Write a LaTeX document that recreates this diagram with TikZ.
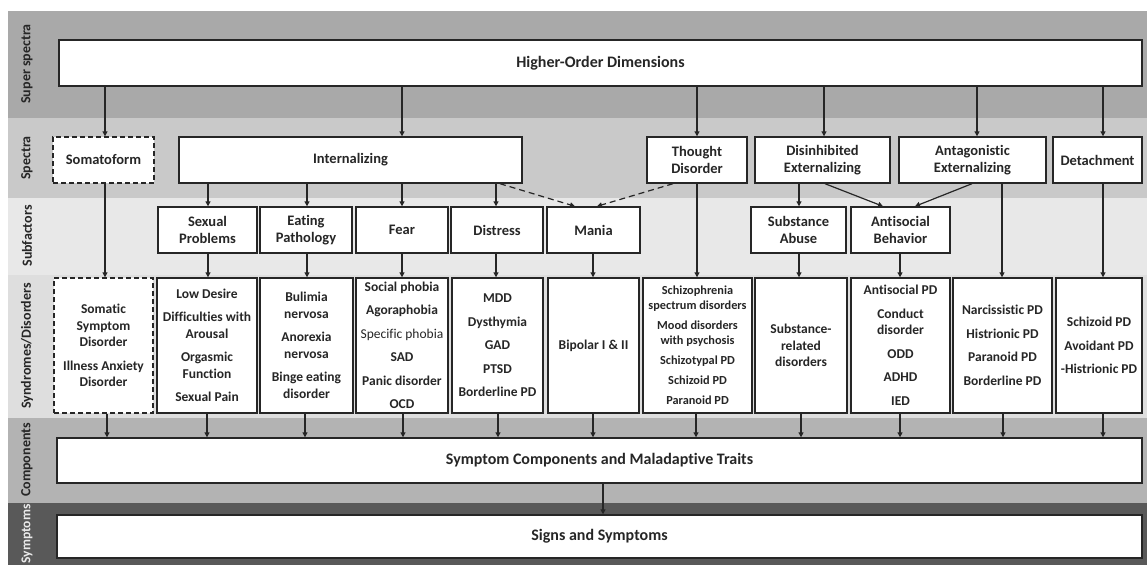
\documentclass[tikz,border=0pt]{standalone}
\usepackage{fontspec}
\setmainfont{Carlito}[Ligatures={NoCommon}]
\usetikzlibrary{arrows.meta}
\definecolor{bSuper}{HTML}{A9A9A9}
\definecolor{bSpec}{HTML}{C9C9C9}
\definecolor{bSub}{HTML}{E8E8E8}
\definecolor{bSyn}{HTML}{DEDEDE}
\definecolor{bComp}{HTML}{B3B3B3}
\definecolor{bSym}{HTML}{595959}
\definecolor{ink}{HTML}{262626}
\newcommand{\bnode}[7]{\node[#1, minimum width={(#5-#3)*1pt}, minimum height={(#6-#4)*1pt}] (#2) at ({(#3+#5)/2},{(#4+#6)/2}) {#7};}
\newcommand{\gp}{\\[7pt]}
\newcommand{\gq}{\\[5pt]}
\tikzset{
  bx/.style={draw=ink, line width=1.4pt, fill=white, inner sep=1pt, align=center, text=ink,
    font=\fontsize{14.5}{17}\selectfont\bfseries},
  dshd/.style={dash pattern=on 5pt off 3pt},
  dbx/.style={bx, dshd},
  big/.style={bx, font=\fontsize{16}{19}\selectfont\bfseries},
  syn/.style={bx, font=\fontsize{13.5}{16.5}\selectfont\bfseries},
  synsm/.style={bx, font=\fontsize{12.3}{15}\selectfont\bfseries},
  arr/.style={draw=ink, line width=1.2pt, -{Triangle[length=5pt,width=5pt]}},
  darr/.style={arr, dash pattern=on 6pt off 4pt},
  lab/.style={rotate=90, text=ink, font=\fontsize{14}{16}\selectfont\bfseries},
}
\begin{document}
\begin{tikzpicture}[x=1pt, y=-1pt]
\useasboundingbox (0,0) rectangle (1147,565);
% bands
\fill[bSuper] (8,11) rectangle (1147,118);
\fill[bSpec] (8,118) rectangle (1147,198);
\fill[bSub] (8,198) rectangle (1147,275);
\fill[bSyn] (8,275) rectangle (1147,418);
\fill[bComp] (8,418) rectangle (1147,503);
\fill[bSym] (8,503) rectangle (1147,565);
% row labels
\node[lab] (lsup) at (27,64) {Super spectra};
\node[lab] (lspe) at (27,158) {Spectra};
\node[lab] (lsub) at (27,236) {Subfactors};
\node[lab] (lsyn) at (27,346) {Syndromes/Disorders};
\node[lab] (lcom) at (27,460) {Components};
\node[lab, text=white!92!black, font=\fontsize{13.5}{16}\selectfont\bfseries] (lsym) at (27,534) {Symptoms};
% super spectra
\bnode{big}{hod}{59}{40}{1142}{86}{Higher-Order Dimensions}
% spectra
\bnode{dbx}{som}{53}{137}{154}{183}{Somatoform}
\bnode{bx}{int}{179}{137}{522}{183}{Internalizing}
\bnode{bx}{tho}{647}{137}{747}{183}{Thought\\Disorder}
\bnode{bx}{dis}{755}{137}{890}{183}{Disinhibited\\Externalizing}
\bnode{bx}{ant}{899}{137}{1046}{183}{Antagonistic\\Externalizing}
\bnode{bx}{det}{1053}{137}{1142}{183}{Detachment}
% subfactors
\bnode{bx}{sex}{158}{207}{257}{253}{Sexual\\Problems}
\bnode{bx}{eat}{260}{207}{352}{253}{Eating\\Pathology}
\bnode{bx}{fea}{356}{207}{448}{253}{Fear}
\bnode{bx}{dst}{451}{207}{543}{253}{Distress}
\bnode{bx}{man}{547}{207}{640}{253}{Mania}
\bnode{bx}{sub}{751}{207}{846}{253}{Substance\\Abuse}
\bnode{bx}{asb}{851}{207}{950}{253}{Antisocial\\Behavior}
% syndromes / disorders
\bnode{syn, dshd}{ssom}{54}{278}{153}{413}{Somatic\\Symptom\\Disorder\gp Illness Anxiety\\Disorder}
\bnode{syn}{ssex}{157}{278}{257}{413}{Low Desire\gp Difficulties with\\Arousal\gp Orgasmic\\Function\gp Sexual Pain}
\bnode{syn}{seat}{260}{278}{353}{413}{Bulimia\\nervosa\gp Anorexia\\nervosa\gp Binge eating\\disorder}
\bnode{syn}{sfea}{356}{278}{448}{413}{Social phobia\gp Agoraphobia\gp {\mdseries Specific phobia}\gp SAD\gp Panic disorder\gp OCD}
\bnode{syn}{sdst}{452}{278}{543}{413}{MDD\gp Dysthymia\gp GAD\gp PTSD\gp Borderline PD}
\bnode{syn}{sman}{548}{278}{639}{413}{Bipolar I \& II}
\bnode{synsm}{stho}{643}{278}{752}{413}{Schizophrenia\\spectrum disorders\gq Mood disorders\\with psychosis\gq Schizotypal PD\gq Schizoid PD\gq Paranoid PD}
\bnode{syn}{ssub}{755}{278}{847}{413}{Substance-\\related\\disorders}
\bnode{syn}{sasb}{851}{278}{950}{413}{Antisocial PD\gp Conduct\\disorder\gp ODD\gp ADHD\gp IED}
\bnode{syn}{sant}{953}{278}{1052}{413}{Narcissistic PD\gp Histrionic PD\gp Paranoid PD\gp Borderline PD}
\bnode{syn}{sdet}{1056}{278}{1142}{413}{Schizoid PD\gp Avoidant PD\gp -Histrionic PD}
% components and symptoms
\bnode{big}{comp}{57}{438}{1142}{483}{Symptom Components and Maladaptive Traits}
\bnode{big}{sign}{57}{515}{1142}{558}{Signs and Symptoms}
% x positions
\coordinate (x105) at (105,0);
\coordinate (x402) at (402,0);
\coordinate (x697) at (697,0);
\coordinate (x824) at (824,0);
\coordinate (x977) at (977,0);
\coordinate (x1103) at (1103,0);
\coordinate (x208) at (208,0);
\coordinate (x307) at (307,0);
\coordinate (x496) at (496,0);
\coordinate (x593) at (593,0);
\coordinate (x799) at (799,0);
\coordinate (x900) at (900,0);
\coordinate (x1002) at (1002,0);
\coordinate (x107) at (107,0);
\coordinate (x207) at (207,0);
\coordinate (x305) at (305,0);
\coordinate (x403) at (403,0);
\coordinate (x498) at (498,0);
\coordinate (x696) at (696,0);
\coordinate (x801) at (801,0);
\coordinate (x1003) at (1003,0);
\coordinate (x603) at (603,0);
% higher-order to spectra
\draw[arr] (hod.south -| x105) -- (som.north -| x105);
\draw[arr] (hod.south -| x402) -- (int.north -| x402);
\draw[arr] (hod.south -| x697) -- (tho.north -| x697);
\draw[arr] (hod.south -| x824) -- (dis.north -| x824);
\draw[arr] (hod.south -| x977) -- (ant.north -| x977);
\draw[arr] (hod.south -| x1103) -- (det.north -| x1103);
% spectra to subfactors
\draw[arr] (int.south -| x208) -- (sex.north -| x208);
\draw[arr] (int.south -| x307) -- (eat.north -| x307);
\draw[arr] (int.south -| x402) -- (fea.north -| x402);
\draw[arr] (int.south -| x496) -- (dst.north -| x496);
\coordinate (intd) at (500,183.7);
\coordinate (thod) at (673,183.7);
\coordinate (mana) at (575,206.3);
\coordinate (manb) at (597,206.3);
\draw[darr] (intd) -- (mana);
\draw[darr] (thod) -- (manb);
\draw[arr] (dis.south -| x799) -- (sub.north -| x799);
\coordinate (disa) at (825,183.7);
\coordinate (asba) at (883,206.3);
\coordinate (anta) at (972,183.7);
\coordinate (asbb) at (915,206.3);
\draw[arr] (disa) -- (asba);
\draw[arr] (anta) -- (asbb);
% spectra straight to syndromes
\draw[arr] (som.south -| x105) -- (ssom.north -| x105);
\draw[arr] (tho.south -| x697) -- (stho.north -| x697);
\draw[arr] (ant.south -| x1002) -- (sant.north -| x1002);
\draw[arr] (det.south -| x1103) -- (sdet.north -| x1103);
% subfactors to syndromes
\draw[arr] (sex.south -| x208) -- (ssex.north -| x208);
\draw[arr] (eat.south -| x307) -- (seat.north -| x307);
\draw[arr] (fea.south -| x402) -- (sfea.north -| x402);
\draw[arr] (dst.south -| x496) -- (sdst.north -| x496);
\draw[arr] (man.south -| x593) -- (sman.north -| x593);
\draw[arr] (sub.south -| x799) -- (ssub.north -| x799);
\draw[arr] (asb.south -| x900) -- (sasb.north -| x900);
% syndromes to components
\draw[arr] (ssom.south -| x107) -- (comp.north -| x107);
\draw[arr] (ssex.south -| x207) -- (comp.north -| x207);
\draw[arr] (seat.south -| x305) -- (comp.north -| x305);
\draw[arr] (sfea.south -| x403) -- (comp.north -| x403);
\draw[arr] (sdst.south -| x498) -- (comp.north -| x498);
\draw[arr] (sman.south -| x593) -- (comp.north -| x593);
\draw[arr] (stho.south -| x696) -- (comp.north -| x696);
\draw[arr] (ssub.south -| x801) -- (comp.north -| x801);
\draw[arr] (sasb.south -| x900) -- (comp.north -| x900);
\draw[arr] (sant.south -| x1003) -- (comp.north -| x1003);
\draw[arr] (sdet.south -| x1103) -- (comp.north -| x1103);
% components to signs
\draw[arr] (comp.south -| x603) -- (sign.north -| x603);
\end{tikzpicture}
\end{document}
